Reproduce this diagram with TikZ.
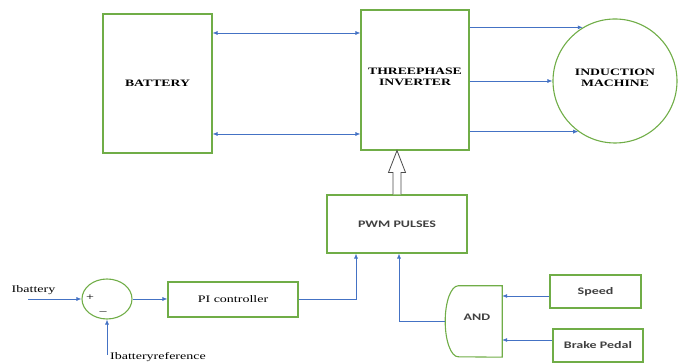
\documentclass[tikz,border=0pt]{standalone}
\usepackage{fontspec}
\setmainfont{Liberation Serif}[FakeStretch=1.4]
\newfontfamily\calib{Carlito}[FakeStretch=1.4]
\usetikzlibrary{arrows.meta,shapes.geometric}
\definecolor{boxgreen}{HTML}{70AD47}
\definecolor{lineblue}{HTML}{4472C4}
\definecolor{txtgray}{HTML}{404040}

\begin{document}
\begin{tikzpicture}[x=1pt,y=1pt,>={Latex[length=5pt,width=4pt]},
	blk/.style={draw=boxgreen,line width=1.1pt,inner sep=0pt},
	link/.style={draw=lineblue,line width=0.7pt,->},
	capsfont/.style={font=\fontsize{9.8}{11}\selectfont\bfseries,align=center},
	txt/.style={font=\fontsize{10}{12}\selectfont},
	gate/.style={font=\calib\fontsize{10}{12}\selectfont\bfseries,text=txtgray}]
	\useasboundingbox (0,0) rectangle (678,363);

	% Power stage
	\node[blk,capsfont,minimum width=109,minimum height=139] (battery) at (157.5,279.5) {BATTERY};
	\node[blk,capsfont,minimum width=108,minimum height=140,text depth=6pt] (inv) at (415,283) {THREEPHASE\\INVERTER};
	\node[blk,capsfont,circle,minimum size=124,text depth=6pt] (machine) at (615,282) {INDUCTION\\MACHINE};

	\coordinate (bt) at ([yshift=50.5pt]battery.east);
	\coordinate (bb) at ([yshift=-50.5pt]battery.east);
	\draw[link,<->] (bt) -- (bt -| inv.west);
	\draw[link,<->] (bb) -- (bb -| inv.west);

	\draw[link] (inv.east |- machine.121) -- (machine.121);
	\draw[link] (inv.east |- machine.west) -- (machine.west);
	\draw[link] (inv.east |- machine.234) -- (machine.234);

	% PWM
	\node[blk,gate,minimum width=140,minimum height=58] (pwm) at (397,139) {PWM PULSES};
	\coordinate (tip) at (pwm.north |- inv.south);
	\draw[draw=black!70,line width=0.8pt,fill=white] ([xshift=-4pt]pwm.north) -- ++(0,22) -- ++(-4.5,0) -- (tip)
		-- ([shift={(8.5pt,22pt)}]pwm.north) -- ++(-4.5,0) -- ([xshift=4pt]pwm.north);

	% Current loop
	\node[blk,ellipse,minimum width=50,minimum height=40] (sum) at (107,64) {};
	\node[txt] (plus) at (90,65) {+};
	\node[txt] (minus) at (103,50) {--};
	\node[blk,txt,minimum width=130,minimum height=35] (pi) at (233,63.5) {PI controller};

	\coordinate (ibin) at (28,64);
	\node[txt] (iblabel) at (33.5,73) {Ibattery};
	\draw[link] (ibin) -- (sum.west);
	\coordinate (irefin) at (107,8);
	\node[txt,anchor=north west,inner sep=0pt] (ireflabel) at (110,11) {Ibatteryreference};
	\draw[link] (irefin) -- (sum.south);

	\draw[link] (sum.east) -- (sum.east -| pi.west);
	\draw[link] (pi.east) -| ([xshift=-41pt]pwm.south);

	% Brake logic
	\node[gate,minimum width=57,minimum height=71,inner sep=0pt,text depth=9pt] (and) at (473.5,41.5) {\hspace*{7pt}AND};
	\draw[draw=boxgreen,line width=1.1pt] (and.north east) -- ++(-44,0)
		arc[start angle=90,end angle=270,x radius=13,y radius=35.5] -- (and.south east) -- cycle;
	\node[blk,gate,minimum width=91,minimum height=33] (speed) at (595.5,71.5) {Speed};
	\node[blk,gate,minimum width=90,minimum height=33] (brake) at (598,17.5) {Brake Pedal};

	\coordinate (spdin) at ([yshift=25.5pt]and.east);
	\coordinate (brkin) at ([yshift=-18.5pt]and.east);
	\draw[link] (spdin -| speed.west) -- (spdin);
	\draw[link] (brkin -| brake.west) -- (brkin);
	\draw[link] (and.west) -| ([xshift=2pt]pwm.south);
\end{tikzpicture}
\end{document}
